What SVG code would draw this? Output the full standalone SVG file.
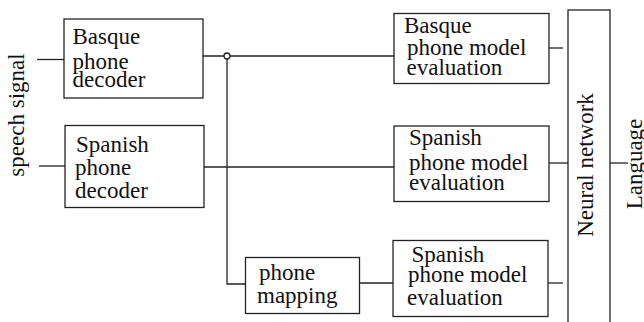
<svg xmlns="http://www.w3.org/2000/svg" width="644" height="322" viewBox="0 0 644 322">
<style>
.box{fill:#fff;stroke:#222;stroke-width:1.3}
.ln{fill:none;stroke:#222;stroke-width:1.3}
text{font-family:"Liberation Serif","Times New Roman",serif;font-size:23px;fill:#111}
</style>
<rect width="644" height="322" fill="#fff"/>
<g id="connectors">
<line class="ln" x1="37" y1="59.5" x2="64" y2="59.5"/>
<line class="ln" x1="39" y1="166" x2="65" y2="166"/>
<line class="ln" x1="203" y1="56" x2="394" y2="56"/>
<path class="ln" d="M227 59V284H245"/>
<circle cx="227" cy="56" r="3" fill="#fff" stroke="#222" stroke-width="1.3"/>
<line class="ln" x1="204" y1="167" x2="394" y2="167"/>
<line class="ln" x1="359" y1="283" x2="393" y2="283"/>
<line class="ln" x1="549" y1="48" x2="563" y2="48"/>
<line class="ln" x1="549" y1="163" x2="568" y2="163"/>
<line class="ln" x1="548" y1="283" x2="563" y2="283"/>
<line class="ln" x1="610" y1="163" x2="628" y2="163"/>
</g>
<g id="speech-signal"><text transform="translate(24,115) rotate(-90)" text-anchor="middle">speech signal</text></g>
<g id="basque-decoder">
<rect class="box" x="64" y="19" width="139" height="79"/>
<text x="72.5" y="44">Basque</text>
<text x="72.5" y="68.5">phone</text>
<text x="72.5" y="87.3">decoder</text>
</g>
<g id="spanish-decoder">
<rect class="box" x="65" y="125.5" width="139" height="82"/>
<text x="76" y="152">Spanish</text>
<text x="75" y="175">phone</text>
<text x="75" y="198">decoder</text>
</g>
<g id="phone-mapping">
<rect class="box" x="245.5" y="257.5" width="114" height="56"/>
<text x="259" y="280">phone</text>
<text x="257" y="303">mapping</text>
</g>
<g id="basque-eval">
<rect class="box" x="394" y="13.5" width="155" height="70"/>
<text x="404" y="32.5">Basque</text>
<text x="407" y="55">phone model</text>
<text x="406.5" y="75">evaluation</text>
</g>
<g id="spanish-eval">
<rect class="box" x="394" y="126" width="155" height="75.5"/>
<text x="409" y="145">Spanish</text>
<text x="409" y="170">phone model</text>
<text x="409" y="190">evaluation</text>
</g>
<g id="spanish-eval-mapped">
<rect class="box" x="393" y="240.5" width="155" height="76"/>
<text x="411.5" y="262">Spanish</text>
<text x="408" y="282">phone model</text>
<text x="407" y="305">evaluation</text>
</g>
<g id="neural-network">
<rect class="box" x="568" y="10" width="42" height="320"/>
<text transform="translate(593,165) rotate(-90)" text-anchor="middle">Neural network</text>
</g>
<g id="language"><text transform="translate(642,164) rotate(-90)" text-anchor="middle">Language</text></g>
</svg>
